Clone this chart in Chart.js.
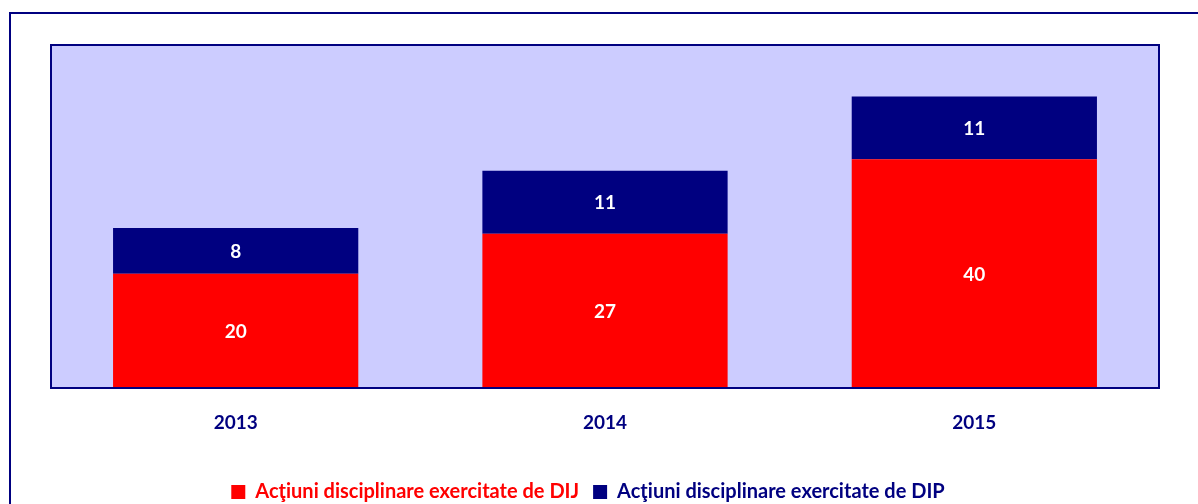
<!DOCTYPE html>
<html lang="ro">
<head>
<meta charset="UTF-8">
<title>Acţiuni disciplinare</title>
<script src="https://cdn.jsdelivr.net/npm/chart.js"></script>
<style>
    body { margin: 0; background: #fff; overflow: hidden; }
    .wrap { position: relative; width: 1198px; height: 504px; }
    .frame {
        position: absolute;
        left: 9px;
        top: 12px;
        width: 1300px;
        height: 600px;
        border: 2px solid #000080;
    }
    canvas { position: absolute; left: 0; top: 0; }
</style>
</head>
<body>
<div class="wrap">
    <div class="frame"></div>
    <canvas id="chart" width="1198" height="504"></canvas>
</div>
<script>
const years = ['2013', '2014', '2015'];
const dijValues = [20, 27, 40];
const dipValues = [8, 11, 11];
const seriesNames = ['Acţiuni disciplinare exercitate de DIJ', 'Acţiuni disciplinare exercitate de DIP'];

const NAVY = '#000080';
const RED = '#FF0000';
const FONT = 'Lato, sans-serif';

// plot area fill + border
const plotBox = {
    id: 'plotBox',
    beforeDatasetsDraw(chart) {
        const a = chart.chartArea, ctx = chart.ctx;
        ctx.save();
        ctx.fillStyle = '#CCCCFF';
        ctx.fillRect(a.left, a.top, a.right - a.left, a.bottom - a.top);
        ctx.restore();
    },
    afterDatasetsDraw(chart) {
        const a = chart.chartArea, ctx = chart.ctx;
        ctx.save();
        ctx.strokeStyle = NAVY;
        ctx.lineWidth = 2;
        ctx.strokeRect(a.left, a.top, a.right - a.left, a.bottom - a.top);
        ctx.restore();
    }
};

// value labels inside the bars
const barValues = {
    id: 'barValues',
    afterDatasetsDraw(chart) {
        const ctx = chart.ctx;
        ctx.save();
        ctx.fillStyle = '#fff';
        ctx.font = 'bold 19px ' + FONT;
        ctx.textAlign = 'center';
        ctx.textBaseline = 'middle';
        chart.data.datasets.forEach((ds, i) => {
            chart.getDatasetMeta(i).data.forEach((bar, j) => {
                const mid = (bar.y + bar.base) / 2;
                ctx.fillText(ds.data[j], bar.x, mid + 1);
            });
        });
        ctx.restore();
    }
};

// the legend sits a little left of centre in the original
const legendShift = {
    id: 'legendShift',
    afterLayout(chart) {
        chart.legend.left -= 17;
        chart.legend.right -= 17;
    }
};

new Chart(document.getElementById('chart'), {
    type: 'bar',
    data: {
        labels: years,
        datasets: [
            { label: seriesNames[0], data: dijValues, backgroundColor: RED },
            { label: seriesNames[1], data: dipValues, backgroundColor: NAVY }
        ]
    },
    options: {
        responsive: false,
        animation: false,
        layout: { padding: { left: 51, right: 39, top: 45, bottom: -8 } },
        datasets: { bar: { categoryPercentage: 1, barPercentage: 0.664 } },
        plugins: {
            tooltip: { enabled: false },
            legend: {
                position: 'bottom',
                labels: {
                    boxWidth: 14,
                    boxHeight: 14,
                    padding: 14,
                    font: { family: FONT, size: 20, weight: 'bold' },
                    generateLabels(chart) {
                        return chart.data.datasets.map((ds, i) => ({
                            text: ds.label,
                            fillStyle: ds.backgroundColor,
                            strokeStyle: ds.backgroundColor,
                            lineWidth: 0,
                            fontColor: ds.backgroundColor,
                            datasetIndex: i
                        }));
                    }
                }
            }
        },
        scales: {
            x: {
                stacked: true,
                grid: { display: false, drawTicks: false },
                border: { display: false },
                ticks: {
                    color: NAVY,
                    padding: 23,
                    font: { family: FONT, size: 19, weight: 'bold' }
                },
                afterFit(scale) { scale.height = 80; }
            },
            y: {
                stacked: true,
                display: false,
                min: 0,
                max: 60
            }
        }
    },
    plugins: [plotBox, barValues, legendShift]
});
</script>
</body>
</html>
